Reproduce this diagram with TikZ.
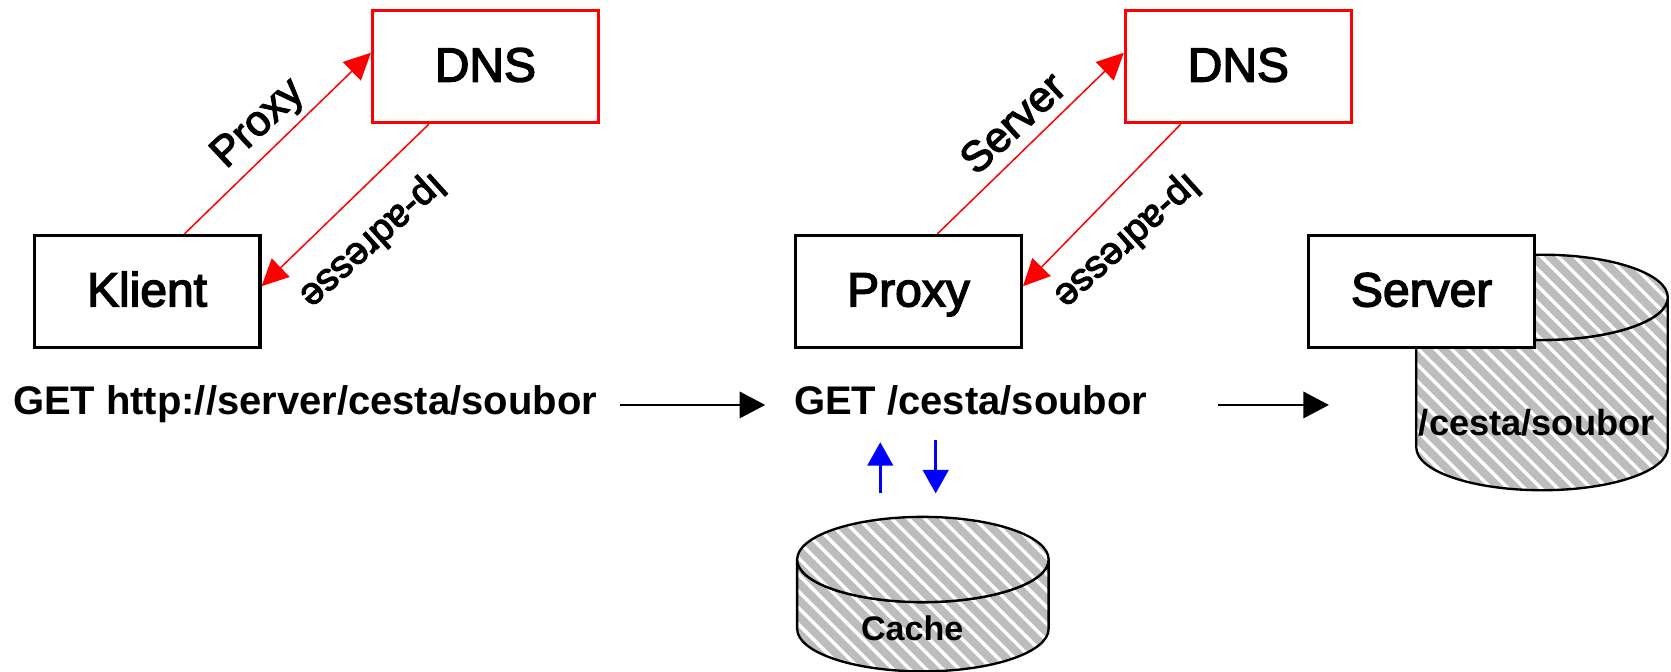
\documentclass[tikz,border=0pt]{standalone}
\usepackage{fontspec}
\setmainfont{Liberation Sans}
\newfontfamily\heavy[FakeBold=3]{Liberation Sans}
\usetikzlibrary{arrows.meta,patterns.meta}
\definecolor{hatchgray}{HTML}{BDBDBD}
\newcommand{\fs}[1]{\fontsize{#1}{#1}\selectfont}
\tikzset{
  x=1pt,y=-1pt,
  blackbox/.style={draw=black,line width=2.9pt,fill=white,minimum width=212pt,minimum height=105pt,inner sep=0pt,text height=38pt,text depth=10pt,font=\heavy\fs{45}},
  redbox/.style={blackbox,draw=red},
  redline/.style={draw=red,line width=1.4pt,-{Triangle[length=25pt,width=24pt,fill=red]}},
  blackline/.style={draw=black,line width=1.3pt,-{Triangle[length=24pt,width=25pt,fill=black]}},
  blueline/.style={draw=blue,line width=2.6pt,-{Triangle[length=22pt,width=24pt,fill=blue]}},
  disk/.style={draw=black,line width=2.2pt,preaction={fill=hatchgray},pattern={Lines[angle=-45,distance=11pt,line width=3.2pt]},pattern color=white},
  getlabel/.style={font=\fs{37.5}\bfseries,inner sep=0pt,anchor=west,text height=28pt,text depth=10pt},
  disklabel/.style={inner sep=0pt},
  slanted/.style={font=\heavy\fs{40},inner sep=0pt,rotate=43},
  flipped/.style={font=\heavy\fs{36},inner sep=0pt,rotate=222},
}
\begin{document}
\begin{tikzpicture}
\useasboundingbox (0,0) rectangle (1568,630);
% disks
\path[disk] (1329,279) -- (1329,420) arc[start angle=180,end angle=0,x radius=118,y radius=40] -- (1565,279) arc[start angle=0,end angle=180,x radius=118,y radius=40] -- cycle;
\path[disk] (1447,279) ellipse[x radius=118,y radius=40];
\path[disk] (748,525) -- (748,590) arc[start angle=180,end angle=0,x radius=118,y radius=40] -- (984,525) arc[start angle=0,end angle=180,x radius=118,y radius=40] -- cycle;
\path[disk] (866,525) ellipse[x radius=118,y radius=40];
% boxes
\node[blackbox] (klient) at (138,273.5) {Klient};
\node[redbox] (dnsa) at (455.5,62.5) {DNS};
\node[blackbox] (proxy) at (852.5,273.5) {Proxy};
\node[redbox] (dnsb) at (1162,62.5) {DNS};
\node[blackbox] (server) at (1334,273.5) {Server};
% labels
\node[getlabel] (geta) at (12,380) {GET http://server/cesta/soubor};
\node[getlabel] (getb) at (745,380) {GET /cesta/soubor};
\node[disklabel,font=\fs{34}\bfseries] (soubor) at (1442,397) {/cesta/soubor};
\node[disklabel,font=\fs{32}\bfseries] (cache) at (856,590) {Cache};
\node[slanted] (lpa) at (243,117) {Proxy};
\node[slanted] (lsa) at (950,115) {Server};
\node[flipped] (lia) at (349,225) {Ip-adresse};
\node[flipped] (lib) at (1057,225) {Ip-adresse};
% free ends
\coordinate (endb) at (1247,380);
\coordinate (upa) at (826,463);
\coordinate (upb) at (826,415);
\coordinate (dna) at (878,413);
\coordinate (dnb) at (878,463);
% connectors
\draw[redline] ([xshift=35pt]klient.north) -- ([yshift=13pt]dnsa.west);
\draw[redline] ([xshift=-53pt]dnsa.south) -- ([yshift=5pt]klient.east);
\draw[redline] ([xshift=27pt]proxy.north) -- ([yshift=13pt]dnsb.west);
\draw[redline] ([xshift=-54pt]dnsb.south) -- ([yshift=5pt]proxy.east);
\draw[blackline] ([xshift=21pt]geta.east) -- ([xshift=-27pt]getb.west);
\draw[blackline] ([xshift=66pt]getb.east) -- (endb);
\draw[blueline] (upa) -- (upb);
\draw[blueline] (dna) -- (dnb);
\end{tikzpicture}
\end{document}
